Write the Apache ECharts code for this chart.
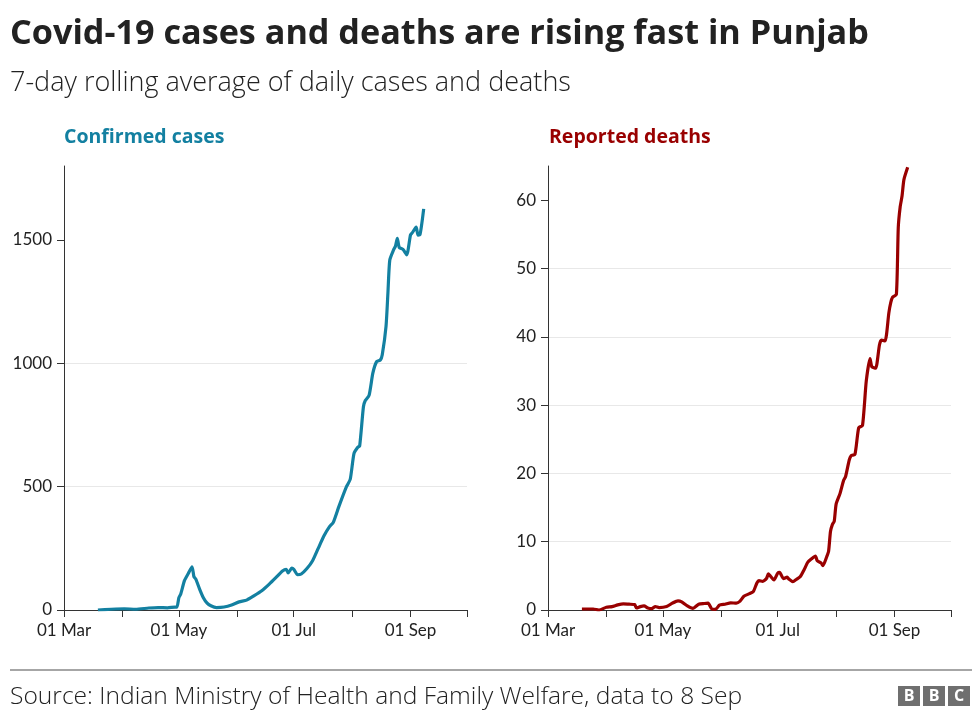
<!DOCTYPE html>
<html><head><meta charset="utf-8">
<script src="https://cdn.jsdelivr.net/npm/echarts@6/dist/echarts.min.js"></script>
<style>html,body{margin:0;padding:0;background:#fff}#c{width:976px;height:710px}</style>
</head><body><div id="c"></div>
<script>
const caseDates = ['2020-03-19','2020-03-26','2020-04-02','2020-04-08','2020-04-15','2020-04-20','2020-04-25','2020-04-29','2020-04-30','2020-05-01','2020-05-02','2020-05-04','2020-05-06','2020-05-08','2020-05-09','2020-05-10','2020-05-12','2020-05-14','2020-05-16','2020-05-18','2020-05-21','2020-05-25','2020-05-29','2020-06-02','2020-06-06','2020-06-10','2020-06-14','2020-06-18','2020-06-22','2020-06-25','2020-06-27','2020-06-28','2020-06-30','2020-07-01','2020-07-03','2020-07-05','2020-07-08','2020-07-11','2020-07-14','2020-07-17','2020-07-20','2020-07-22','2020-07-25','2020-07-29','2020-07-31','2020-08-02','2020-08-04','2020-08-05','2020-08-07','2020-08-08','2020-08-10','2020-08-12','2020-08-14','2020-08-16','2020-08-17','2020-08-19','2020-08-20','2020-08-21','2020-08-23','2020-08-24','2020-08-25','2020-08-26','2020-08-28','2020-08-30','2020-09-01','2020-09-02','2020-09-04','2020-09-05','2020-09-06','2020-09-08'];
const caseValues = [0,3,5,3,8,10,9,12,12,50,65,120,148,175,135,125,85,50,28,17,10,12,20,33,40,58,78,105,135,158,165,150,170,165,143,146,168,200,250,300,338,355,420,500,530,635,660,665,824,849,870,960,1007,1014,1035,1150,1284,1419,1460,1475,1507,1470,1462,1440,1521,1530,1552,1520,1521,1626];

const deathDates = ['2020-03-19','2020-03-25','2020-03-28','2020-04-01','2020-04-04','2020-04-07','2020-04-10','2020-04-13','2020-04-16','2020-04-17','2020-04-19','2020-04-21','2020-04-23','2020-04-25','2020-04-27','2020-04-29','2020-05-03','2020-05-06','2020-05-09','2020-05-11','2020-05-14','2020-05-17','2020-05-20','2020-05-23','2020-05-25','2020-05-27','2020-05-29','2020-05-31','2020-06-03','2020-06-06','2020-06-09','2020-06-11','2020-06-13','2020-06-16','2020-06-18','2020-06-20','2020-06-21','2020-06-23','2020-06-25','2020-06-26','2020-06-27','2020-06-29','2020-07-01','2020-07-02','2020-07-04','2020-07-06','2020-07-07','2020-07-09','2020-07-11','2020-07-13','2020-07-15','2020-07-17','2020-07-19','2020-07-21','2020-07-22','2020-07-24','2020-07-25','2020-07-27','2020-07-28','2020-07-29','2020-07-30','2020-07-31','2020-08-01','2020-08-03','2020-08-05','2020-08-06','2020-08-08','2020-08-09','2020-08-11','2020-08-13','2020-08-15','2020-08-17','2020-08-19','2020-08-20','2020-08-22','2020-08-24','2020-08-25','2020-08-27','2020-08-29','2020-08-30','2020-08-31','2020-09-02','2020-09-03','2020-09-04','2020-09-05','2020-09-06','2020-09-08'];
const deathValues = [0.15,0.15,0,0.4,0.5,0.75,0.9,0.85,0.8,0.3,0.5,0.6,0.3,0.2,0.5,0.35,0.5,1.0,1.35,1.2,0.6,0.25,0.85,0.95,1.0,0.15,0.1,0.7,0.85,1.05,1.0,1.3,2.0,2.4,2.7,4.0,4.3,4.2,4.6,5.3,5.0,4.4,5.4,5.5,4.6,4.8,4.5,4.15,4.5,4.9,5.9,7.0,7.5,7.9,7.2,6.9,6.5,7.8,8.6,11.5,12.5,13.0,15.5,17.0,19.0,19.5,22.0,22.6,22.8,26.7,27.0,33.5,36.8,35.6,35.4,38.8,39.5,39.4,43.5,45.0,45.8,46.2,56.0,59.0,60.6,63.0,64.8];

const caseTicks = [0,500,1000,1500];
const deathTicks = [0,10,20,30,40,50,60];
const monthNames = ['Jan','Feb','Mar','Apr','May','Jun','Jul','Aug','Sep','Oct','Nov','Dec'];

const FONT = '"Open Sans", Lato, sans-serif';
const AXFONT = 'Lato, "Open Sans", sans-serif';
const DAY = 86400000;

function xAxisCfg(gi) {
  return {
    type: 'time', gridIndex: gi,
    min: '2020-03-01', max: '2020-10-01',
    splitNumber: 7, minInterval: 28 * DAY, maxInterval: 31 * DAY,
    axisLine: { show: true, lineStyle: { color: '#333', width: 1 } },
    axisTick: { show: true, length: 7, lineStyle: { color: '#333', width: 1 } },
    splitLine: { show: false },
    axisLabel: {
      color: '#222', fontSize: 17, fontFamily: AXFONT, margin: 12,
      showMinLabel: true, showMaxLabel: true, hideOverlap: false,
      formatter: function (v) {
        const d = new Date(v);
        if (d.getDate() !== 1) return '';
        const m = d.getMonth();
        return (m % 2 === 0) ? '01 ' + monthNames[m] : '';
      }
    }
  };
}
function yAxisCfg(gi, max, interval, ticks) {
  return {
    type: 'value', gridIndex: gi, min: 0, max: max, interval: interval,
    axisLine: { show: true, lineStyle: { color: '#333', width: 1 } },
    axisTick: { show: true, length: 7, customValues: ticks, lineStyle: { color: '#333' } },
    axisLabel: { color: '#222', fontSize: 17, fontFamily: AXFONT, margin: 12, customValues: ticks,
      formatter: function (v) { return String(v); } },
    splitLine: { show: true, showMaxLine: false, showMinLine: false, lineStyle: { color: '#e8e8e8', width: 1 } }
  };
}

const chart = echarts.init(document.getElementById('c'), null, { renderer: 'canvas' });
chart.setOption({
  animation: false,
  backgroundColor: '#fff',
  grid: [
    { left: 64, top: 166, width: 403, height: 444 },
    { left: 548, top: 166, width: 403, height: 444 }
  ],
  xAxis: [xAxisCfg(0), xAxisCfg(1)],
  yAxis: [yAxisCfg(0, 1800, 500, caseTicks), yAxisCfg(1, 65, 10, deathTicks)],
  series: [
    { type: 'line', xAxisIndex: 0, yAxisIndex: 0, showSymbol: false, smooth: 0.2,
      lineStyle: { color: '#1380A1', width: 3.2 },
      data: caseDates.map((d, i) => [d, caseValues[i]]) },
    { type: 'line', xAxisIndex: 1, yAxisIndex: 1, showSymbol: false, smooth: 0.2,
      lineStyle: { color: '#990000', width: 3.2 },
      data: deathDates.map((d, i) => [d, deathValues[i]]) }
  ],
  graphic: [
    { type: 'text', left: 10, top: 17, style: { text: 'Covid-19 cases and deaths are rising fast in Punjab', fill: '#222', font: 'bold 34.2px ' + FONT } },
    { type: 'text', left: 10, top: 70, style: { text: '7-day rolling average of daily cases and deaths', fill: '#222', font: '300 27px ' + FONT } },
    { type: 'text', left: 64, top: 127, style: { text: 'Confirmed cases', fill: '#1380A1', font: 'bold 19.5px ' + FONT } },
    { type: 'text', left: 549, top: 127, style: { text: 'Reported deaths', fill: '#990000', font: 'bold 19.5px ' + FONT } },
    { type: 'line', shape: { x1: 10, y1: 670, x2: 972, y2: 670 }, style: { stroke: '#888', lineWidth: 1.5 } },
    { type: 'text', left: 10, top: 684, style: { text: 'Source: Indian Ministry of Health and Family Welfare, data to 8 Sep', fill: '#222', font: '300 24.6px ' + FONT } },
    { type: 'group', left: 898, top: 686, children: [
      { type: 'rect', shape: { x: 0, y: 0, width: 22, height: 20 }, style: { fill: '#6f6f6f' } },
      { type: 'rect', shape: { x: 25, y: 0, width: 22, height: 20 }, style: { fill: '#6f6f6f' } },
      { type: 'rect', shape: { x: 50, y: 0, width: 22, height: 20 }, style: { fill: '#6f6f6f' } },
      { type: 'text', x: 11, y: 10, style: { text: 'B', fill: '#fff', font: 'bold 16px ' + FONT, align: 'center', verticalAlign: 'middle' } },
      { type: 'text', x: 36, y: 10, style: { text: 'B', fill: '#fff', font: 'bold 16px ' + FONT, align: 'center', verticalAlign: 'middle' } },
      { type: 'text', x: 61, y: 10, style: { text: 'C', fill: '#fff', font: 'bold 16px ' + FONT, align: 'center', verticalAlign: 'middle' } }
    ] }
  ]
});
</script>
</body></html>
